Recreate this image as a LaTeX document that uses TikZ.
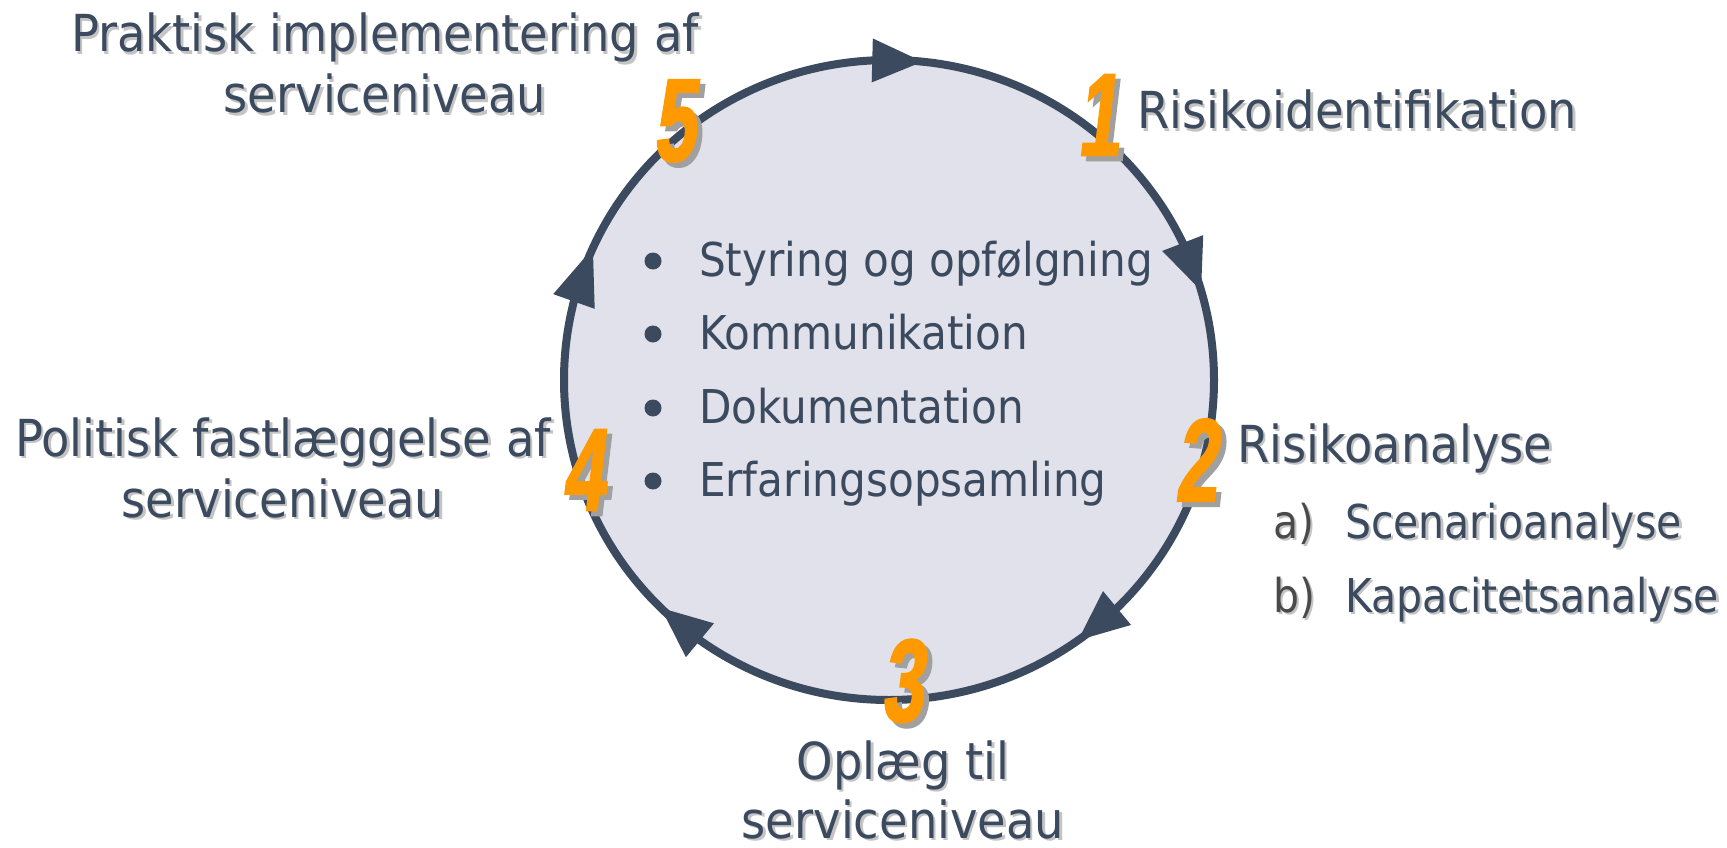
\documentclass[tikz,border=0pt]{standalone}
\usepackage{fontspec}
\usetikzlibrary{calc,shapes.geometric}
\newfontfamily\lblfont[FakeStretch=0.91]{DejaVu Sans}
\newfontfamily\bulfont[FakeStretch=0.905]{DejaVu Sans}
\newfontfamily\subfont[FakeStretch=0.88]{DejaVu Sans}
\newfontfamily\numfont[FakeStretch=0.64,FakeSlant=0.12,FakeBold=1.5]{Liberation Sans}
\definecolor{slate}{HTML}{3B4A5E}
\definecolor{ringfill}{HTML}{E0E1EA}
\definecolor{orangeC}{HTML}{FF9900}
\definecolor{numgray}{HTML}{A0A0A0}
\definecolor{txtshadow}{HTML}{C4C4C4}
\definecolor{listgray}{HTML}{4A4A4A}
\tikzset{
  lbl/.style={inner sep=0pt, outer sep=0pt, text=slate, font=\lblfont\fontsize{51}{61}\selectfont},
  bul/.style={inner sep=0pt, outer sep=0pt, text=slate, font=\bulfont\fontsize{46.6}{56}\selectfont},
  sub/.style={inner sep=0pt, outer sep=0pt, text=slate, font=\subfont\fontsize{46.6}{56}\selectfont},
  num/.style={inner sep=0pt, outer sep=0pt, text=orangeC, font=\numfont\bfseries\fontsize{118}{124}\selectfont},
  dot/.style={circle, fill=slate, inner sep=0pt, minimum size=17pt},
  ahead/.style={fill=slate, draw=none},
}
% name, position, anchor, text
\newcommand\shlabel[4]{%
  \node[lbl, text=txtshadow, anchor=#3] (#1-sh) at ($#2+(2.5,-2.5)$) {#4};
  \node[lbl, anchor=#3] (#1) at #2 {#4};}
\newcommand\shsub[4]{%
  \node[sub, text=txtshadow, anchor=#3] (#1-sh) at ($#2+(2.5,-2.5)$) {#4};
  \node[sub, anchor=#3] (#1) at #2 {#4};}
\newcommand\shnum[3]{%
  \node[num, text=numgray] (#1-sh) at ($#2+(5,-5)$) {#3};
  \node[num] (#1) at #2 {#3};}
% name, tip angle, base angle
\newcommand\arrowhead[3]{%
  \coordinate (#1-t) at (ring.#2);
  \coordinate (#1-b) at (ring.#3);
  \fill[ahead] (#1-t) -- ($(#1-b)!22pt!90:(#1-t)$) -- ($(#1-b)!22pt!-90:(#1-t)$) -- cycle;}
\begin{document}
\begin{tikzpicture}[x=1pt,y=1pt]
\useasboundingbox (0,0) rectangle (1727,-848);
\fill[white] (0,0) rectangle (1727,-848);

% ring
\node[ellipse, draw=slate, fill=ringfill, line width=8pt, outer sep=0pt, inner sep=0pt,
      minimum width=650pt, minimum height=640pt] (ring) at (889,-380) {};

% arrowheads (clockwise flow)
\arrowhead{aTop}{84.2}{93.7}
\arrowhead{aRight}{16.5}{25.6}
\arrowhead{aLowR}{-54.5}{-45.2}
\arrowhead{aLowL}{225.1}{234.1}
\arrowhead{aLeft}{156.8}{166.5}

% bullet list inside
\node[dot] (d1) at (653,-261) {};
\node[bul, anchor=base west] (b1) at (699,-276) {Styring og opfølgning};
\node[dot] (d2) at (653,-334) {};
\node[bul, anchor=base west] (b2) at (699,-349) {Kommunikation};
\node[dot] (d3) at (653,-408) {};
\node[bul, anchor=base west] (b3) at (699,-423) {Dokumentation};
\node[dot] (d4) at (653,-481) {};
\node[bul, anchor=base west] (b4) at (699,-496) {Erfaringsopsamling};

% labels
\shlabel{l5a}{(385,-52)}{base}{Praktisk implementering af}
\shlabel{l5b}{(385,-113)}{base}{serviceniveau}
\shlabel{l1}{(1137,-129)}{base west}{Risikoidentifikation}
\shlabel{l2}{(1237,-462)}{base west}{Risikoanalyse}
\node[sub, text=txtshadow, anchor=base west] (l2a-m-sh) at (1275.5,-540.5) {a)};
\node[sub, text=listgray, anchor=base west] (l2a-m) at (1273,-538) {a)};
\shsub{l2a}{(1345,-538)}{base west}{Scenarioanalyse}
\node[sub, text=txtshadow, anchor=base west] (l2b-m-sh) at (1275.5,-614.5) {b)};
\node[sub, text=listgray, anchor=base west] (l2b-m) at (1273,-612) {b)};
\shsub{l2b}{(1345,-612)}{base west}{Kapacitetsanalyse}
\shlabel{l3a}{(903,-779)}{base}{Oplæg til}
\shlabel{l3b}{(903,-838)}{base}{serviceniveau}
\shlabel{l4a}{(283,-456)}{base}{Politisk fastlæggelse af}
\shlabel{l4b}{(283,-517)}{base}{serviceniveau}

% step numbers
\shnum{n5}{(674,-121)}{5}
\shnum{n1}{(1098,-115)}{1}
\shnum{n2}{(1196,-460)}{2}
\shnum{n3}{(902,-681)}{3}
\shnum{n4}{(583,-470)}{4}
\end{tikzpicture}
\end{document}
